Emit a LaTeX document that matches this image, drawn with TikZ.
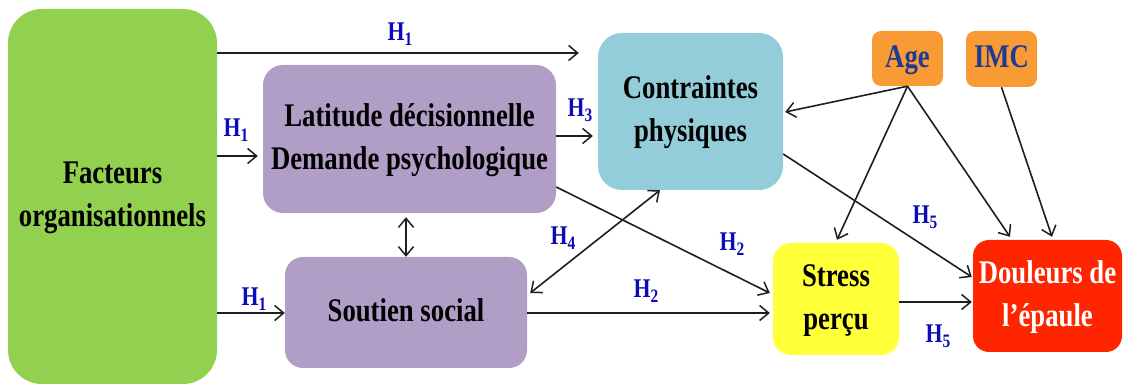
\documentclass[tikz,border=0pt]{standalone}
\usepackage{fontspec}
\setmainfont{Liberation Serif}[FakeStretch=0.81]
\usetikzlibrary{arrows.meta,calc}
\definecolor{cgreen}{HTML}{92D050}
\definecolor{cpurple}{HTML}{B19EC7}
\definecolor{ccyan}{HTML}{93CDDA}
\definecolor{corange}{HTML}{F99B34}
\definecolor{cyellow}{HTML}{FFFF3A}
\definecolor{cred}{HTML}{FF2500}
\definecolor{hblue}{HTML}{0A0AB8}
\definecolor{tblue}{HTML}{1F3A93}
\definecolor{lgray}{HTML}{1E1E1E}
\tikzset{
  box/.style={draw=none, inner sep=0pt,
    font=\bfseries\fontsize{33}{43}\selectfont},
  arr/.style={draw=lgray, line width=1.6pt, -{Straight Barb[length=9pt,width=15pt,line width=1.5pt]}},
  darr/.style={draw=lgray, line width=1.6pt, {Straight Barb[length=9pt,width=15pt,line width=1.5pt]}-{Straight Barb[length=9pt,width=15pt,line width=1.5pt]}},
  hlab/.style={text=hblue, font=\bfseries\fontsize{27}{27}\selectfont, inner sep=0pt}
}
\newcommand{\Hs}[1]{H\raisebox{-5pt}{\fontsize{19}{19}\selectfont #1}}
\newcommand{\tl}[2]{\raisebox{-#1pt}{\begin{tabular}{@{}c@{}}#2\end{tabular}}}
\begin{document}
\begin{tikzpicture}[x=1pt,y=-1pt]
\useasboundingbox (0,0) rectangle (1125,387);
% boxes
\node[box, fill=cgreen, rounded corners=34pt, minimum width=209pt, minimum height=375pt] (green) at (112.5,196.5) {\tl{5}{Facteurs\\organisationnels}};
\node[box, fill=cpurple, rounded corners=20pt, minimum width=293pt, minimum height=148pt] (lat) at (409.5,139) {\tl{5}{Latitude décisionnelle\\Demande psychologique}};
\node[box, fill=cpurple, rounded corners=18pt, minimum width=242pt, minimum height=111pt] (sout) at (406,312.5) {\tl{2}{Soutien social}};
\node[box, fill=ccyan, rounded corners=24pt, minimum width=185pt, minimum height=157pt] (contr) at (690.5,111.5) {\tl{5}{Contraintes\\physiques}};
\node[box, fill=corange, text=tblue, rounded corners=9pt, minimum width=71pt, minimum height=55pt] (age) at (907.5,58.5) {\tl{2}{Age}};
\node[box, fill=corange, text=tblue, rounded corners=9pt, minimum width=71pt, minimum height=56pt] (imc) at (1001.5,59) {\tl{2}{IMC}};
\node[box, fill=cyellow, rounded corners=18pt, minimum width=126pt, minimum height=112pt] (stress) at (836,299) {\tl{7}{Stress\\perçu}};
\node[box, fill=cred, text=white, rounded corners=16pt, minimum width=149pt, minimum height=112pt] (doul) at (1047.5,296) {\tl{5}{Douleurs de\\l’épaule}};
% connectors
\draw[arr] (green.east |- 0,53) -- ($(contr.west |- 0,53)+(-19,0)$);
\draw[arr] (green.east |- 0,156) -- ($(lat.west |- 0,156)+(-5,0)$);
\draw[arr] (green.east |- 0,313) -- (sout.west |- 0,313);
\draw[arr] (lat.east |- 0,136) -- ($(contr.west |- 0,136)+(-5,0)$);
\draw[darr] ($(lat.south -| 406,0)+(0,4)$) -- (sout.north -| 406,0);
\draw[arr] (lat.east |- 0,187) -- ($(stress.west |- 0,293)+(-3,0)$);
\draw[arr] (sout.east |- 0,313) -- ($(stress.west |- 0,313)+(-3,0)$);
\draw[darr] (contr.south -| 660,0) -- ($(sout.east |- 0,293)+(3,0)$);
\draw[arr] (age.south) -- ($(contr.east |- 0,112)+(2,0)$);
\draw[arr] (age.south) -- ($(stress.north -| 837,0)+(0,-3)$);
\draw[arr] (age.south) -- ($(doul.north -| 1010,0)+(0,-3)$);
\draw[arr] (imc.south) -- ($(doul.north -| 1052,0)+(0,-3)$);
\draw[arr] (contr.east |- 0,154) -- ($(doul.west |- 0,277)+(-1,0)$);
\draw[arr] (stress.east |- 0,302) -- ($(doul.west |- 0,302)+(-1,0)$);
% labels
\node[hlab] (h1a) at (400,34) {\Hs{1}};
\node[hlab] (h1b) at (236,130) {\Hs{1}};
\node[hlab] (h1c) at (254,299) {\Hs{1}};
\node[hlab] (h3) at (580,110) {\Hs{3}};
\node[hlab] (h4) at (563,238) {\Hs{4}};
\node[hlab] (h2a) at (732,244) {\Hs{2}};
\node[hlab] (h2b) at (646,291) {\Hs{2}};
\node[hlab] (h5a) at (925,217) {\Hs{5}};
\node[hlab] (h5b) at (938,336) {\Hs{5}};
\end{tikzpicture}
\end{document}
